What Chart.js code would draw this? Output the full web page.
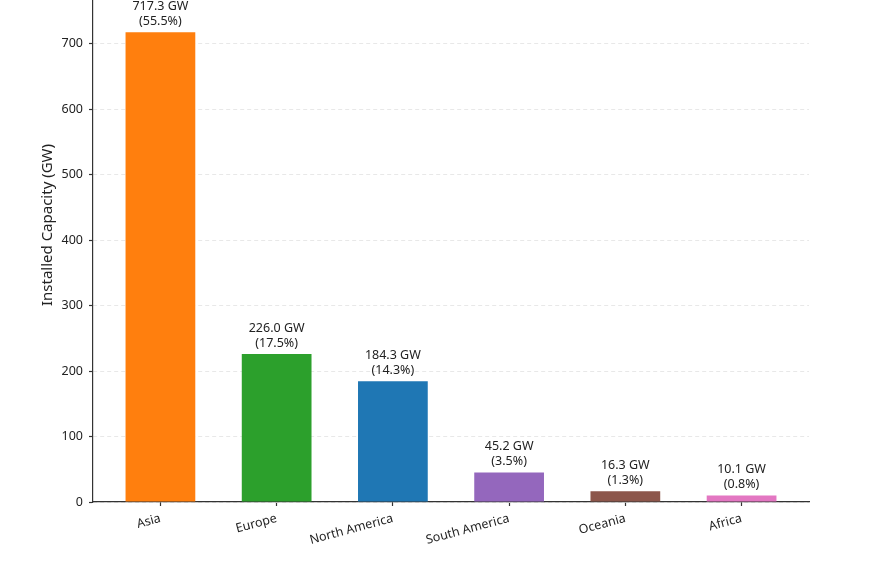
<!DOCTYPE html>
<html>
<head>
<meta charset="utf-8">
<title>Installed Capacity by Region</title>
<script src="https://cdn.jsdelivr.net/npm/chart.js@4.4.0/dist/chart.umd.min.js"></script>
<style>
  html, body { margin: 0; padding: 0; background: #fff; overflow: hidden; }
  /* the original figure is cropped at the top, so the chart starts above the page */
  #wrap { position: absolute; left: 0; top: -52px; width: 891px; height: 640px; }
</style>
</head>
<body>
<div id="wrap"><canvas id="myChart"></canvas></div>
<script>
// Data
const regions = ['Asia', 'Europe', 'North America', 'South America', 'Oceania', 'Africa'];
const capacity = [717.3, 226.0, 184.3, 45.2, 16.3, 10.1];
const shares = [55.5, 17.5, 14.3, 3.5, 1.3, 0.8];
const barColors = ['#ff7f0e', '#2ca02c', '#1f77b4', '#9467bd', '#8c564b', '#e377c2'];
const yMax = 846;

Chart.defaults.font.family = '"Noto Sans", sans-serif';
Chart.defaults.color = '#222';

// Two-line value labels above each bar
const barLabels = {
    id: 'barLabels',
    afterDatasetsDraw(chart) {
        const ctx = chart.ctx;
        const bars = chart.getDatasetMeta(0).data;
        ctx.save();
        ctx.font = '12.5px "Noto Sans", sans-serif';
        ctx.fillStyle = '#222';
        ctx.textAlign = 'center';
        ctx.textBaseline = 'alphabetic';
        bars.forEach((bar, i) => {
            ctx.fillText(capacity[i].toFixed(1) + ' GW', bar.x, bar.y - 22);
            ctx.fillText('(' + shares[i].toFixed(1) + '%)', bar.x, bar.y - 7);
        });
        ctx.restore();
    }
};

// keep the plot area exactly where the axes put it
function noEdgePadding(scale) {
    scale.paddingTop = 0;
    scale.paddingBottom = 0;
    scale.paddingLeft = 0;
    scale.paddingRight = 0;
}

const ctx = document.getElementById('myChart').getContext('2d');

const myChart = new Chart(ctx, {
    type: 'bar',
    data: {
        datasets: [{
            data: capacity.map((v, i) => ({ x: i, y: v })),
            backgroundColor: barColors,
            barPercentage: 0.6,
            categoryPercentage: 1
        }]
    },
    options: {
        responsive: true,
        maintainAspectRatio: false,
        animation: false,
        layout: { padding: { left: 0, right: 82, top: 0, bottom: 0 } },
        plugins: {
            legend: { display: false },
            tooltip: { enabled: false }
        },
        scales: {
            x: {
                type: 'linear',
                min: -0.58,
                max: 5.58,
                offset: false,
                afterBuildTicks: scale => { scale.ticks = regions.map((_, i) => ({ value: i })); },
                afterFit: scale => { scale.height = 86; noEdgePadding(scale); },
                ticks: {
                    callback: v => regions[v],
                    minRotation: 15,
                    maxRotation: 15,
                    autoSkip: false,
                    padding: 5,
                    font: { size: 12.5 },
                    color: '#222'
                },
                grid: {
                    offset: false,
                    drawOnChartArea: false,
                    tickLength: 4,
                    tickColor: '#333',
                    tickWidth: 1.2
                },
                border: { color: '#333', width: 1.2 }
            },
            y: {
                min: 0,
                max: yMax,
                afterFit: scale => { scale.width = 93; noEdgePadding(scale); },
                ticks: {
                    stepSize: 100,
                    includeBounds: false,
                    padding: 6,
                    font: { size: 12.5 },
                    color: '#222'
                },
                title: {
                    display: true,
                    text: 'Installed Capacity (GW)',
                    font: { size: 15 },
                    color: '#222',
                    padding: { top: 39, bottom: 0 }
                },
                grid: {
                    color: '#e8e8e8',
                    lineWidth: 1,
                    tickLength: 4,
                    tickColor: '#333',
                    tickWidth: 1.2
                },
                border: { color: '#333', width: 1.2, dash: [4, 3] }
            }
        }
    },
    plugins: [barLabels]
});
</script>
</body>
</html>
